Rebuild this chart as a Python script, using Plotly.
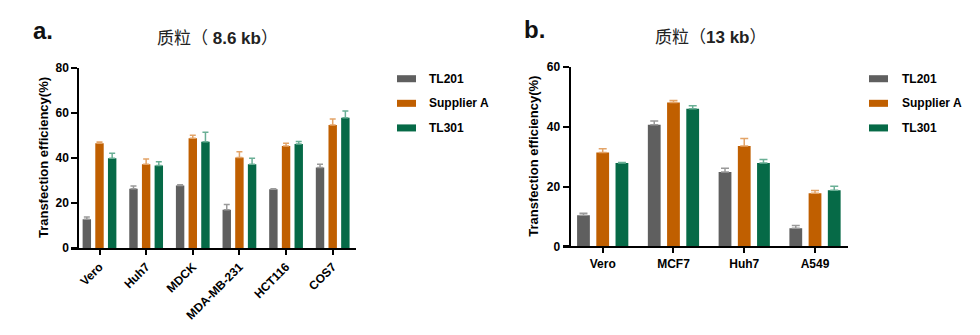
import plotly.graph_objects as go

# ---------------- data ----------------
series_names = ["TL201", "Supplier A", "TL301"]

cats_a = ["Vero", "Huh7", "MDCK", "MDA-MB-231", "HCT116", "COS7"]
tl201_a = [12.8, 26.4, 27.8, 17.1, 26.1, 35.8]
tl201_a_err = [1.0, 1.2, 0.3, 2.3, 0.3, 1.4]
supA_a = [46.6, 37.2, 48.8, 40.3, 45.4, 54.7]
supA_a_err = [0.5, 2.4, 1.3, 2.5, 1.2, 2.6]
tl301_a = [39.9, 36.7, 47.2, 37.3, 46.3, 57.9]
tl301_a_err = [2.2, 1.7, 4.3, 2.6, 1.0, 3.0]

cats_b = ["Vero", "MCF7", "Huh7", "A549"]
tl201_b = [10.4, 40.7, 24.9, 6.1]
tl201_b_err = [0.7, 1.2, 1.2, 0.9]
supA_b = [31.4, 48.1, 33.6, 17.8]
supA_b_err = [1.3, 0.7, 2.5, 0.9]
tl301_b = [27.9, 46.0, 27.9, 18.8]
tl301_b_err = [0.2, 1.0, 1.2, 1.3]

yticks_a = [0, 20, 40, 60, 80]
yticks_b = [0, 20, 40, 60]

title_a = "质粒（ <b>8.6 kb</b>）"
title_b = "质粒（<b>13 kb</b>）"
ytitle = "Transfection efficiency(%)"

# ---------------- style ----------------
W, H = 980, 335
colors = ["#5f5f5f", "#c05f00", "#066a47"]
err_colors = ["#9a9a9a", "#e3a468", "#6aaf95"]
FONT = "Liberation Sans, Arial, Noto Sans CJK SC"

# vertical calibration of the rendered page (target pixel -> layout pixel)
Y_OFF, Y_SCALE = 7.6, 0.954


def px_x(p):
    return p / W


def px_y(p):
    return 1 - ((p - Y_OFF) / Y_SCALE) / H


fig = go.Figure()

vals_a = [tl201_a, supA_a, tl301_a]
errs_a = [tl201_a_err, supA_a_err, tl301_a_err]
vals_b = [tl201_b, supA_b, tl301_b]
errs_b = [tl201_b_err, supA_b_err, tl301_b_err]

for i, name in enumerate(series_names):
    fig.add_trace(go.Bar(
        x=cats_a, y=vals_a[i], name=name, marker_color=colors[i],
        marker_line_width=0, showlegend=False,
        error_y=dict(type="data", array=errs_a[i], arrayminus=[0] * len(cats_a),
                     symmetric=False, color=err_colors[i], thickness=1.5, width=3),
        xaxis="x", yaxis="y", offsetgroup=str(i)))
for i, name in enumerate(series_names):
    fig.add_trace(go.Bar(
        x=cats_b, y=vals_b[i], name=name, marker_color=colors[i],
        marker_line_width=0, showlegend=False,
        error_y=dict(type="data", array=errs_b[i], arrayminus=[0] * len(cats_b),
                     symmetric=False, color=err_colors[i], thickness=1.5, width=4),
        xaxis="x2", yaxis="y2", offsetgroup=str(i)))

tickfont = dict(family=FONT, size=12, color="black", weight="bold")
axis_common = dict(showline=True, linewidth=2, linecolor="black", ticks="outside",
                   tickwidth=2, tickcolor="black", showgrid=False,
                   zeroline=False, tickfont=tickfont)

# panel a geometry
xa0, xa1 = 71, 356
ya0, ya1 = 247.7, 68.3
cat_a0, cat_a_sp = 99.5, 46.64
# panel b geometry
xb0, xb1 = 563, 848
yb0, yb1 = 246, 67.3
cat_b0, cat_b_sp = 602.7, 70.77

fig.update_layout(
    width=W, height=H, margin=dict(l=0, r=0, t=0, b=0),
    paper_bgcolor="white", plot_bgcolor="white",
    barmode="group", bargap=0.185, bargroupgap=0.335,
    showlegend=False,
    xaxis=dict(domain=[px_x(xa0), px_x(xa1)], anchor="y", type="category",
               range=[-(cat_a0 - xa0) / cat_a_sp, 5 + (xa1 - (cat_a0 + 5 * cat_a_sp)) / cat_a_sp],
               tickangle=-45, ticklen=5, **axis_common),
    yaxis=dict(domain=[px_y(ya0), px_y(ya1)], anchor="free", position=px_x(78.3),
               range=[0, 80], tickvals=yticks_a, ticklen=6, **axis_common),
    xaxis2=dict(domain=[px_x(xb0), px_x(xb1)], anchor="y2", type="category",
                range=[-(cat_b0 - xb0) / cat_b_sp, 3 + (xb1 - (cat_b0 + 3 * cat_b_sp)) / cat_b_sp],
                tickangle=0, ticklen=5, **axis_common),
    yaxis2=dict(domain=[px_y(yb0), px_y(yb1)], anchor="free", position=px_x(569.5),
                range=[0, 60], tickvals=yticks_b, ticklen=6, **axis_common),
)

annotations = []
# panel letters
annotations.append(dict(x=px_x(31), y=px_y(31), xref="paper", yref="paper", text="<b>a.</b>",
                        showarrow=False, xanchor="left", yanchor="middle",
                        font=dict(family=FONT, size=24, color="#111111")))
annotations.append(dict(x=px_x(522), y=px_y(30), xref="paper", yref="paper", text="<b>b.</b>",
                        showarrow=False, xanchor="left", yanchor="middle",
                        font=dict(family=FONT, size=24, color="#111111")))
# titles
annotations.append(dict(x=px_x(217), y=px_y(39), xref="paper", yref="paper", text=title_a,
                        showarrow=False, xanchor="center", yanchor="middle",
                        font=dict(family=FONT, size=17, color="#222222")))
annotations.append(dict(x=px_x(710), y=px_y(38), xref="paper", yref="paper", text=title_b,
                        showarrow=False, xanchor="center", yanchor="middle",
                        font=dict(family=FONT, size=17, color="#222222")))
# y titles
annotations.append(dict(x=px_x(43), y=px_y((ya0 + ya1) / 2), xref="paper", yref="paper",
                        text=ytitle, textangle=-90, showarrow=False,
                        xanchor="center", yanchor="middle",
                        font=dict(family=FONT, size=13, color="black", weight="bold")))
annotations.append(dict(x=px_x(534), y=px_y((yb0 + yb1) / 2), xref="paper", yref="paper",
                        text=ytitle, textangle=-90, showarrow=False,
                        xanchor="center", yanchor="middle",
                        font=dict(family=FONT, size=13, color="black", weight="bold")))

shapes = []
legend_rows = [79, 103.5, 128]
for (sx, tx) in [(397, 427), (869, 900)]:
    for i, name in enumerate(series_names):
        cy = legend_rows[i]
        shapes.append(dict(type="rect", xref="paper", yref="paper",
                           x0=px_x(sx), x1=px_x(sx + 19), y0=px_y(cy + 3.5), y1=px_y(cy - 3.5),
                           fillcolor=colors[i], line=dict(width=0)))
        annotations.append(dict(x=px_x(tx), y=px_y(cy), xref="paper", yref="paper", text=name,
                                showarrow=False, xanchor="left", yanchor="middle",
                                font=dict(family=FONT, size=12, color="black", weight="bold")))

fig.update_layout(annotations=annotations, shapes=shapes)

fig.write_html("out.html")
